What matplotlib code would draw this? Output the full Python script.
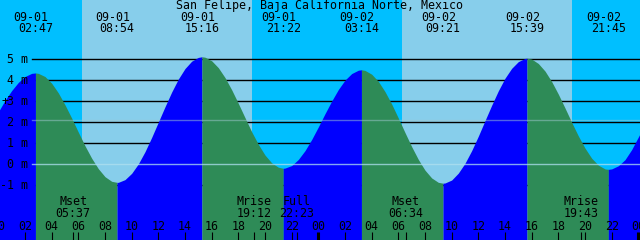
import matplotlib
matplotlib.use("Agg")
import matplotlib.pyplot as plt
import matplotlib.transforms as mtransforms

#Station title
title = "San Felipe, Baja California Norte, Mexico"

#High / low tides (hours from 09-01 00:00, metres)
extreme_dates = ["09-01", "09-01", "09-01", "09-01", "09-02", "09-02", "09-02", "09-02"]
extreme_times = ["02:47", "08:54", "15:16", "21:22", "03:14", "09:21", "15:39", "21:45"]
extreme_hours = [2.783, 8.9, 15.267, 21.367, 27.233, 33.35, 39.65, 45.75]
extreme_heights = [4.35, -0.86, 5.12, -0.19, 4.5, -0.9, 5.05, -0.24]

#Half-hourly tide heights (hours -1 .. 49)
curve_hours = [i / 2 for i in range(-2, 99)]
curve_heights = [1.39, 1.94, 2.50, 3.04, 3.51, 3.90, 4.18, 4.33, 4.33, 4.18,
                 3.86, 3.40, 2.83, 2.20, 1.53, 0.88, 0.29, -0.21, -0.59, -0.81,
                 -0.86, -0.73, -0.43, 0.02, 0.60, 1.28, 2.01, 2.74, 3.44, 4.06,
                 4.56, 4.91, 5.09, 5.10, 4.93, 4.60, 4.13, 3.55, 2.90, 2.22,
                 1.55, 0.95, 0.44, 0.07, -0.14, -0.18, -0.06, 0.23, 0.65, 1.18,
                 1.78, 2.41, 3.01, 3.56, 4.01, 4.32, 4.48, 4.47, 4.29, 3.95,
                 3.46, 2.87, 2.20, 1.51, 0.84, 0.23, -0.28, -0.65, -0.86, -0.89,
                 -0.75, -0.42, 0.05, 0.65, 1.34, 2.08, 2.81, 3.50, 4.10, 4.57,
                 4.89, 5.04, 5.01, 4.80, 4.44, 3.94, 3.34, 2.68, 2.00, 1.35,
                 0.77, 0.29, -0.04, -0.22, -0.22, -0.07, 0.22, 0.70, 1.30, 1.90,
                 2.40]

#Sun and moon
sun_events = [6.27, 19.03, 30.27, 43.02]
moon_names = ["Mset", "Mrise", "Full", "Mset", "Mrise"]
moon_times = ["05:37", "19:12", "22:23", "06:34", "19:43"]
moon_hours = [5.617, 19.2, 22.383, 30.567, 43.717]

levels = [-1, 0, 1, 2, 3, 4, 5]
mean_level = 2.1

#Colours
night_col = "#00bfff"
day_col = "#87ceeb"
flood_col = "#0000ff"
ebb_col = "#2e8b57"

W, H = 640, 240
x0, x1 = 0.125, 48.125
ytop, ybot = 7.824, -3.605

fig = plt.figure(figsize=(W / 100, H / 100), dpi=100)
ax = fig.add_axes([0, 0, 1, 1])
ax.set_xlim(x0, x1)
ax.set_ylim(ybot, ytop)
ax.axis("off")

font = dict(family="DejaVu Sans Mono", fontsize=8.4, color="black")

def py(pix):
    #pixel row from the top -> axes fraction
    return 1 - pix / H

xblend = mtransforms.blended_transform_factory(ax.transData, ax.transAxes)
yblend = ax.get_yaxis_transform()

#Day / night background
edges = [x0] + sun_events + [x1]
for i in range(len(edges) - 1):
    ax.axvspan(edges[i], edges[i + 1], color=night_col if i % 2 == 0 else day_col,
               lw=0, zorder=0)

#Depth lines behind the water
for lvl in levels:
    if lvl != 0:
        ax.axhline(lvl, xmin=32 / W, xmax=1, color="black", lw=1.0, zorder=1)

#Water, flood blue and ebb green
pts = sorted(zip(curve_hours + extreme_hours, curve_heights + extreme_heights))
bounds = [curve_hours[0]] + extreme_hours + [curve_hours[-1]]
for a, b in zip(bounds[:-1], bounds[1:]):
    seg = [p for p in pts if a <= p[0] <= b]
    ts = [p[0] for p in seg]
    hs = [p[1] for p in seg]
    col = flood_col if hs[-1] > hs[0] else ebb_col
    ax.fill_between(ts, hs, ybot, color=col, lw=0, zorder=2)

#Datum and mean level lines
ax.axhline(0, xmin=32 / W, xmax=1, color="#b0e0f0", alpha=0.75, lw=1.0, zorder=3)
ax.axhline(mean_level, xmin=32 / W, xmax=1, color="#a0c8d0", alpha=0.5, lw=1.0, zorder=3)

#Level labels
for lvl in levels:
    ax.text(28 / W, lvl, f"{lvl} m", transform=yblend, ha="right", va="center",
            zorder=4, **font)
ax.text(5 / W, 3, "+", transform=yblend, ha="center", va="center", zorder=4, **font)

#Title and tide labels
ax.text(0.5, py(6), title, transform=ax.transAxes, ha="center", va="center",
        zorder=4, **font)
shift = mtransforms.ScaledTranslation(-4.5 / 100, 0, fig.dpi_scale_trans)
for d, tm, hr in zip(extreme_dates, extreme_times, extreme_hours):
    ax.text(hr, py(17.5), d, transform=xblend + shift, ha="center", va="center",
            zorder=4, **font)
    ax.text(hr, py(29), tm, transform=xblend, ha="center", va="center",
            zorder=4, **font)

#Moon labels
for name, tm, hr in zip(moon_names, moon_times, moon_hours):
    ax.text(hr, py(201.5), name, transform=xblend, ha="center", va="center",
            zorder=4, **font)
    ax.text(hr, py(213.5), tm, transform=xblend, ha="center", va="center",
            zorder=4, **font)

#Hour axis
for hr in range(0, 49, 2):
    ax.text(hr, py(226), f"{hr % 24:02d}", transform=xblend, ha="center",
            va="center", zorder=4, **font)
    if hr % 24 == 0:
        ax.vlines(hr, 0, py(232), transform=xblend, color="black", lw=2.2, zorder=4)
    else:
        ax.vlines(hr, 0, py(232), transform=xblend, color="black", lw=0.8, zorder=4)
ax.vlines(moon_hours, 0, py(232), transform=xblend, color="black", lw=0.8, zorder=4)

plt.savefig("out.png", dpi=100)
plt.close()
